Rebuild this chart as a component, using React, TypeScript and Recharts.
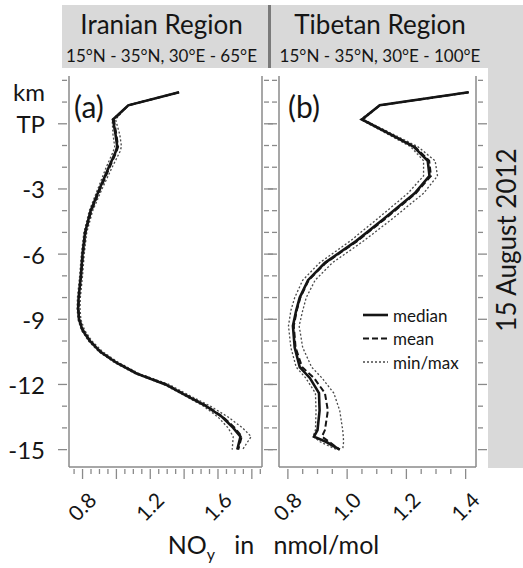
import { ScatterChart, Scatter, XAxis, YAxis, Legend } from 'recharts';

const FONT = 'Lato, "Open Sans", sans-serif';
const AXIS = '#8a8a8a';
const INK = '#151515';

// altitude relative to the thermal tropopause (km)
const altIran = [1.45, 0.85, 0.2, -0.5, -1.05, -1.3, -2, -3, -4, -5, -6, -7, -8, -8.5, -9, -9.5, -10, -10.5, -11, -11.5, -12, -12.5, -13, -13.5, -14, -14.4, -15];
const medianIran = [1.37, 1.07, 0.98, 0.995, 1.005, 0.995, 0.955, 0.9, 0.848, 0.815, 0.8, 0.79, 0.777, 0.774, 0.779, 0.8, 0.843, 0.905, 1.0, 1.12, 1.29, 1.41, 1.53, 1.625, 1.69, 1.733, 1.714];
const meanIran = [1.37, 1.07, 0.985, 1.0, 1.01, 1.0, 0.96, 0.905, 0.852, 0.818, 0.803, 0.792, 0.779, 0.776, 0.781, 0.803, 0.846, 0.908, 1.003, 1.125, 1.295, 1.415, 1.535, 1.63, 1.7, 1.74, 1.72];
const minIran = [1.37, 1.07, 0.975, 0.98, 0.99, 0.98, 0.94, 0.89, 0.84, 0.808, 0.793, 0.783, 0.77, 0.768, 0.773, 0.793, 0.835, 0.897, 0.99, 1.11, 1.28, 1.4, 1.515, 1.6, 1.66, 1.69, 1.684];
const maxIran = [1.37, 1.07, 0.995, 1.02, 1.03, 1.02, 0.975, 0.915, 0.86, 0.825, 0.81, 0.8, 0.787, 0.785, 0.79, 0.812, 0.855, 0.92, 1.015, 1.135, 1.31, 1.43, 1.555, 1.66, 1.745, 1.796, 1.745];

const altTibet = [1.45, 0.85, 0.2, -0.5, -1.05, -1.7, -2.4, -3.2, -4.4, -5.4, -6.4, -7.2, -8, -8.6, -9.3, -10.3, -11.2, -11.7, -12.4, -13.2, -14.1, -14.4, -14.65, -15];
const medianTibet = [1.41, 1.11, 1.05, 1.148, 1.224, 1.272, 1.278, 1.228, 1.122, 1.03, 0.925, 0.868, 0.84, 0.828, 0.817, 0.823, 0.84, 0.874, 0.905, 0.907, 0.9, 0.888, 0.93, 0.975];
const meanTibet = [1.41, 1.11, 1.05, 1.15, 1.228, 1.277, 1.283, 1.232, 1.126, 1.034, 0.928, 0.87, 0.842, 0.83, 0.82, 0.826, 0.848, 0.888, 0.925, 0.935, 0.925, 0.915, 0.94, 0.975];
const minTibet = [1.41, 1.11, 1.045, 1.14, 1.214, 1.258, 1.258, 1.205, 1.1, 1.01, 0.907, 0.85, 0.823, 0.81, 0.802, 0.81, 0.828, 0.86, 0.893, 0.895, 0.893, 0.885, 0.91, 0.965];
const maxTibet = [1.41, 1.11, 1.055, 1.158, 1.238, 1.297, 1.305, 1.258, 1.15, 1.055, 0.95, 0.892, 0.862, 0.85, 0.838, 0.85, 0.88, 0.915, 0.955, 0.975, 0.985, 0.987, 0.988, 0.985];

const regionNames = ['Iranian Region', 'Tibetan Region'];
const regionBounds = ['15°N - 35°N, 30°E - 65°E', '15°N - 35°N, 30°E - 100°E'];
const panelLabels = ['(a)', '(b)'];
const flightDate = '15 August 2012';

const altTicks = [2, 1, 0, -1, -2, -3, -4, -5, -6, -7, -8, -9, -10, -11, -12, -13, -14, -15];
const altTickLabels: Record<number, string> = { 2: 'km', 0: 'TP', [-3]: '-3', [-6]: '-6', [-9]: '-9', [-12]: '-12', [-15]: '-15' };
const valueLabelsIran = [0.8, 1.2, 1.6];
const valueLabelsTibet = [0.8, 1.0, 1.2, 1.4];
const legendNames = ['median', 'mean', 'min/max'];

const ALT_DOMAIN: [number, number] = [-15.8, 2.2];

const STYLES = {
  median: { stroke: INK, strokeWidth: 2.6 },
  mean: { stroke: INK, strokeWidth: 2, strokeDasharray: '6 3' },
  minmax: { stroke: '#4a4a4a', strokeWidth: 1.3, strokeDasharray: '2 2' },
};

const steps = (from: number, to: number, step: number) => {
  const out: number[] = [];
  for (let v = from; v <= to + 1e-9; v += step) out.push(Math.round(v * 100) / 100);
  return out;
};

const toPoints = (alt: number[], vals: number[]) => alt.map((a, i) => ({ alt: a, v: vals[i] }));

const NoMarker = () => <g />;

const altTick = (side: 'left' | 'right', withLabels: boolean) => (props: any) => {
  const { x, y, payload } = props;
  const v = payload.value;
  const len = v % 3 === 0 ? 9 : 5;
  const dir = side === 'left' ? -1 : 1;
  const label = withLabels ? altTickLabels[v] : undefined;
  return (
    <g>
      <line x1={x} x2={x + dir * len} y1={y} y2={y} stroke={AXIS} strokeWidth={1.3} />
      {label && (
        <text x={x - 22} y={v === 2 ? y + 11 : y} textAnchor="end" dominantBaseline="central" fontSize={24} fill={INK}>
          {label}
        </text>
      )}
    </g>
  );
};

const valueTick = (labels: number[]) => (props: any) => {
  const { x, y, payload } = props;
  const v = Math.round(payload.value * 100) / 100;
  const major = Math.round(v * 100) % 20 === 0;
  const cx = x - 1;
  const cy = y + 37;
  return (
    <g>
      <line x1={x} x2={x} y1={y} y2={y + (major ? 10 : 5)} stroke={AXIS} strokeWidth={1.3} />
      {labels.includes(v) && (
        <text x={cx} y={cy} textAnchor="middle" dominantBaseline="central" fontSize={21} fill={INK}
          transform={`rotate(-45 ${cx} ${cy})`}>
          {v.toFixed(1)}
        </text>
      )}
    </g>
  );
};

const renderLegend = () => (
  <svg width={120} height={72}>
    {legendNames.map((name, i) => {
      const st = i === 0 ? STYLES.median : i === 1 ? STYLES.mean : STYLES.minmax;
      const y = 12 + i * 23.5;
      return (
        <g key={name}>
          <line x1={0} x2={25} y1={y} y2={y} {...st} />
          <text x={30} y={y} dominantBaseline="central" fontSize={17} fill={INK} fontFamily={FONT}>{name}</text>
        </g>
      );
    })}
  </svg>
);

interface PanelProps {
  left: number;
  width: number;
  margin: { top: number; right: number; bottom: number; left: number };
  leftAxisWidth: number;
  rightAxisWidth: number;
  xDomain: [number, number];
  xTicks: number[];
  xLabels: number[];
  altLabels: boolean;
  alt: number[];
  median: number[];
  mean: number[];
  min: number[];
  max: number[];
  legendAt?: { left: number; top: number };
}

const Panel = (p: PanelProps) => (
  <div style={{ position: 'absolute', left: p.left, top: 0 }}>
    <ScatterChart width={p.width} height={568} margin={p.margin}>
      <XAxis xAxisId="b" type="number" dataKey="v" domain={p.xDomain} allowDataOverflow ticks={p.xTicks}
        interval={0} tickSize={0} tickLine={false} tick={valueTick(p.xLabels)} height={60}
        axisLine={{ stroke: AXIS, strokeWidth: 1.5 }} />
      <XAxis xAxisId="t" orientation="top" type="number" dataKey="v" domain={p.xDomain} allowDataOverflow
        tick={false} tickLine={false} height={0} axisLine={{ stroke: AXIS, strokeWidth: 1.5 }} />
      <YAxis yAxisId="l" type="number" dataKey="alt" domain={ALT_DOMAIN} allowDataOverflow ticks={altTicks}
        interval={0} tickSize={0} tickLine={false} tick={altTick('left', p.altLabels)} width={p.leftAxisWidth}
        axisLine={{ stroke: AXIS, strokeWidth: 1.5 }} />
      <YAxis yAxisId="r" orientation="right" type="number" dataKey="alt" domain={ALT_DOMAIN} allowDataOverflow
        ticks={altTicks} interval={0} tickSize={0} tickLine={false} tick={altTick('right', false)}
        width={p.rightAxisWidth} axisLine={{ stroke: AXIS, strokeWidth: 1.5 }} />
      <Scatter name="min" xAxisId="b" yAxisId="l" data={toPoints(p.alt, p.min)} fill="none" shape={NoMarker}
        line={STYLES.minmax} isAnimationActive={false} legendType="none" />
      <Scatter name="max" xAxisId="b" yAxisId="l" data={toPoints(p.alt, p.max)} fill="none" shape={NoMarker}
        line={STYLES.minmax} isAnimationActive={false} legendType="none" />
      <Scatter name="mean" xAxisId="b" yAxisId="l" data={toPoints(p.alt, p.mean)} fill="none" shape={NoMarker}
        line={STYLES.mean} isAnimationActive={false} legendType="none" />
      <Scatter name="median" xAxisId="b" yAxisId="l" data={toPoints(p.alt, p.median)} fill="none" shape={NoMarker}
        line={STYLES.median} isAnimationActive={false} legendType="none" />
      {p.legendAt && (
        <Legend layout="vertical" align="center" verticalAlign="middle" content={renderLegend}
          wrapperStyle={{ left: p.legendAt.left, top: p.legendAt.top, width: 120, height: 72 }} />
      )}
    </ScatterChart>
  </div>
);

export default function App() {
  return (
    <div style={{ position: 'absolute', left: 0, top: 0, width: 523, height: 568, background: '#fff', fontFamily: FONT, color: INK, overflow: 'hidden' }}>
      {/* region headers */}
      <div style={{ position: 'absolute', left: 62, top: 5, width: 461, height: 63, background: '#d9d9d9' }} />
      <div style={{ position: 'absolute', left: 268, top: 5, width: 3, height: 63, background: '#7a7a7a' }} />
      {[161.5, 380].map((cx, i) => (
        <div key={regionNames[i]}>
          <div style={{ position: 'absolute', left: cx - 110, width: 220, top: 11, textAlign: 'center', fontSize: 26, lineHeight: '26px', whiteSpace: 'nowrap' }}>
            {regionNames[i]}
          </div>
          <div style={{ position: 'absolute', left: cx - 110, width: 220, top: 47, textAlign: 'center', fontSize: 17, lineHeight: '17px', whiteSpace: 'nowrap' }}>
            {regionBounds[i]}
          </div>
        </div>
      ))}
      {/* date strip */}
      <div style={{ position: 'absolute', left: 488, top: 68, width: 35, height: 400, background: '#d9d9d9' }} />
      <div style={{ position: 'absolute', left: 406, top: 227, width: 200, height: 26, lineHeight: '26px', textAlign: 'center', fontSize: 26, transform: 'rotate(-90deg)', whiteSpace: 'nowrap' }}>
        {flightDate}
      </div>

      <Panel left={0} width={290} margin={{ top: 76, right: 20, bottom: 41, left: 0 }} leftAxisWidth={69}
        rightAxisWidth={8} xDomain={[0.72, 1.86]} xTicks={steps(0.75, 1.85, 0.05)} xLabels={valueLabelsIran}
        altLabels alt={altIran} median={medianIran} mean={meanIran} min={minIran} max={maxIran} />
      <Panel left={230} width={293} margin={{ top: 76, right: 37, bottom: 41, left: 40 }} leftAxisWidth={9}
        rightAxisWidth={10} xDomain={[0.77, 1.435]} xTicks={steps(0.8, 1.4, 0.05)} xLabels={valueLabelsTibet}
        altLabels={false} alt={altTibet} median={medianTibet} mean={meanTibet} min={minTibet} max={maxTibet}
        legendAt={{ left: 133, top: 303 }} />

      {panelLabels.map((t, i) => (
        <div key={t} style={{ position: 'absolute', left: i === 0 ? 74 : 288, top: 91, fontSize: 30, lineHeight: '30px' }}>{t}</div>
      ))}

      <div style={{ position: 'absolute', left: 0, width: 547, top: 530, textAlign: 'center', fontSize: 25, lineHeight: '28px', whiteSpace: 'pre' }}>
        NO<sub style={{ fontSize: 16, verticalAlign: -6, lineHeight: 0 }}>y</sub>{'   in   nmol/mol'}
      </div>
    </div>
  );
}
